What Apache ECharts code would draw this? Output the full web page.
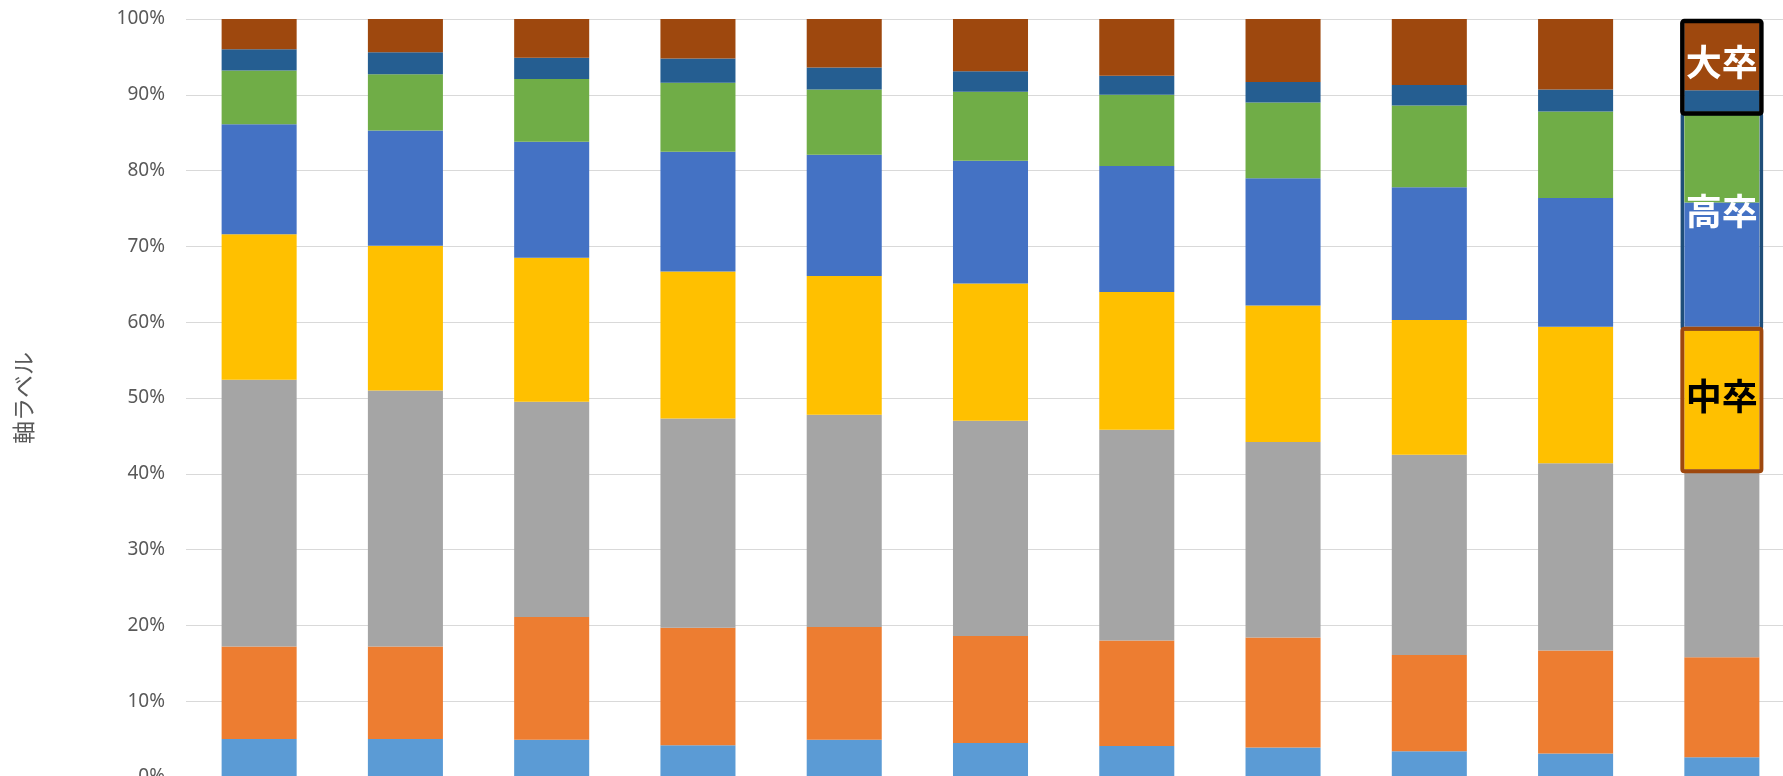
<!DOCTYPE html>
<html><head><meta charset="utf-8">
<script src="https://cdn.jsdelivr.net/npm/echarts@6/dist/echarts.min.js"></script>
<style>
html,body{margin:0;padding:0;overflow:hidden;background:#fff;width:1783px;height:776px}
#chart{position:absolute;left:0;top:0;width:1800px;height:800px}
</style>
</head><body><div id="chart"></div>
<script>
const categories = ['1','2','3','4','5','6','7','8','9','10','11'];
const seriesNames = ['系列1','系列2','系列3','系列4','系列5','系列6','系列7','系列8'];
const s1 = [5.0,5.0,4.9,4.2,4.9,4.5,4.1,3.9,3.4,3.1,2.6];
const s2 = [12.2,12.2,16.2,15.5,14.9,14.1,13.9,14.5,12.7,13.6,13.2];
const s3 = [35.2,33.8,28.4,27.6,28.0,28.4,27.8,25.8,26.4,24.7,24.8];
const s4 = [19.2,19.1,19.0,19.4,18.3,18.1,18.2,18.0,17.8,18.0,18.8];
const s5 = [14.5,15.2,15.3,15.8,16.0,16.2,16.6,16.8,17.5,17.0,16.4];
const s6 = [7.1,7.4,8.3,9.1,8.6,9.1,9.4,10.0,10.8,11.4,12.0];
const s7 = [2.8,2.9,2.8,3.2,2.9,2.7,2.5,2.7,2.7,2.9,2.8];
const s8 = [4.0,4.4,5.1,5.2,6.4,6.9,7.5,8.3,8.7,9.3,9.4];
const allSeries = [s1,s2,s3,s4,s5,s6,s7,s8];
const yAxisTitle = '軸ラベル';

// annotation groups on the last bar: which stacked series each box encloses
const annotationLabels = ['高卒','中卒','大卒'];
const annotationGroups = [[4,5],[3],[6,7]];

const colors = ['#5B9BD5','#ED7D31','#A5A5A5','#FFC000','#4472C4','#70AD47','#255E91','#9E480E'];
const annStyles = {
  '高卒': {stroke:'#1F4E79', lw:3.5, color:'#FFFFFF', dy:-10},
  '中卒': {stroke:'#9E480E', lw:4, color:'#000000', dy:-4},
  '大卒': {stroke:'#000000', lw:4.5, color:'#FFFFFF', dy:-5}
};

const lastIdx = categories.length - 1;
function cumBefore(k){ let s=0; for(let i=0;i<k;i++) s+=allSeries[i][lastIdx]; return s; }
const annData = annotationGroups.map(g => {
  const from = cumBefore(g[0]);
  const to = cumBefore(g[g.length-1]+1);
  return [lastIdx, from, to];
});

const barSeries = allSeries.map((d,i)=>({
  name: seriesNames[i], type:'bar', stack:'total', data:d, barWidth:'51.3%',
  itemStyle:{color:colors[i]}, emphasis:{disabled:true}
}));

const chart = echarts.init(document.getElementById('chart'));
chart.setOption({
  animation:false,
  grid:{left:186, right:5, top:19, bottom:23, containLabel:false},
  xAxis:{type:'category', data:categories, axisLine:{show:false}, axisTick:{show:false}, axisLabel:{show:false}},
  yAxis:{type:'value', min:0, max:100, interval:10,
    name:yAxisTitle, nameLocation:'middle', nameGap:151, nameRotate:90,
    nameTextStyle:{fontSize:23, color:'#595959', fontFamily:'"Noto Sans CJK JP", sans-serif'},
    axisLine:{show:false}, axisTick:{show:false},
    axisLabel:{formatter:'{value}%', fontSize:19, color:'#595959', margin:21, fontFamily:'"Noto Sans", "Open Sans", sans-serif'},
    splitLine:{lineStyle:{color:'#D9D9D9', width:1}}
  },
  series: barSeries.concat([{
    type:'custom', clip:false, z:10, silent:true,
    data: annData,
    renderItem:function(params, api){
      const idx = api.value(0), from = api.value(1), to = api.value(2);
      const lab = annotationLabels[params.dataIndex];
      const st = annStyles[lab];
      const band = api.size([1,0])[0];
      const bw = band*0.513;
      const cx = api.coord([idx, from])[0];
      const yTop = api.coord([idx, to])[1] + 2;
      const yBot = api.coord([idx, from])[1] + 2;
      return {type:'group', children:[
        {type:'rect', shape:{x:cx-bw/2-2, y:yTop, width:bw+4, height:yBot-yTop, r:2},
          style:{fill:'none', stroke:st.stroke, lineWidth:st.lw}},
        {type:'text', x:cx, y:(yTop+yBot)/2 + st.dy,
          style:{text:lab, fill:st.color, font:'bold 36px "Noto Sans CJK JP", sans-serif', textAlign:'center', textVerticalAlign:'middle'}}
      ]};
    }
  }])
});
</script></body></html>
